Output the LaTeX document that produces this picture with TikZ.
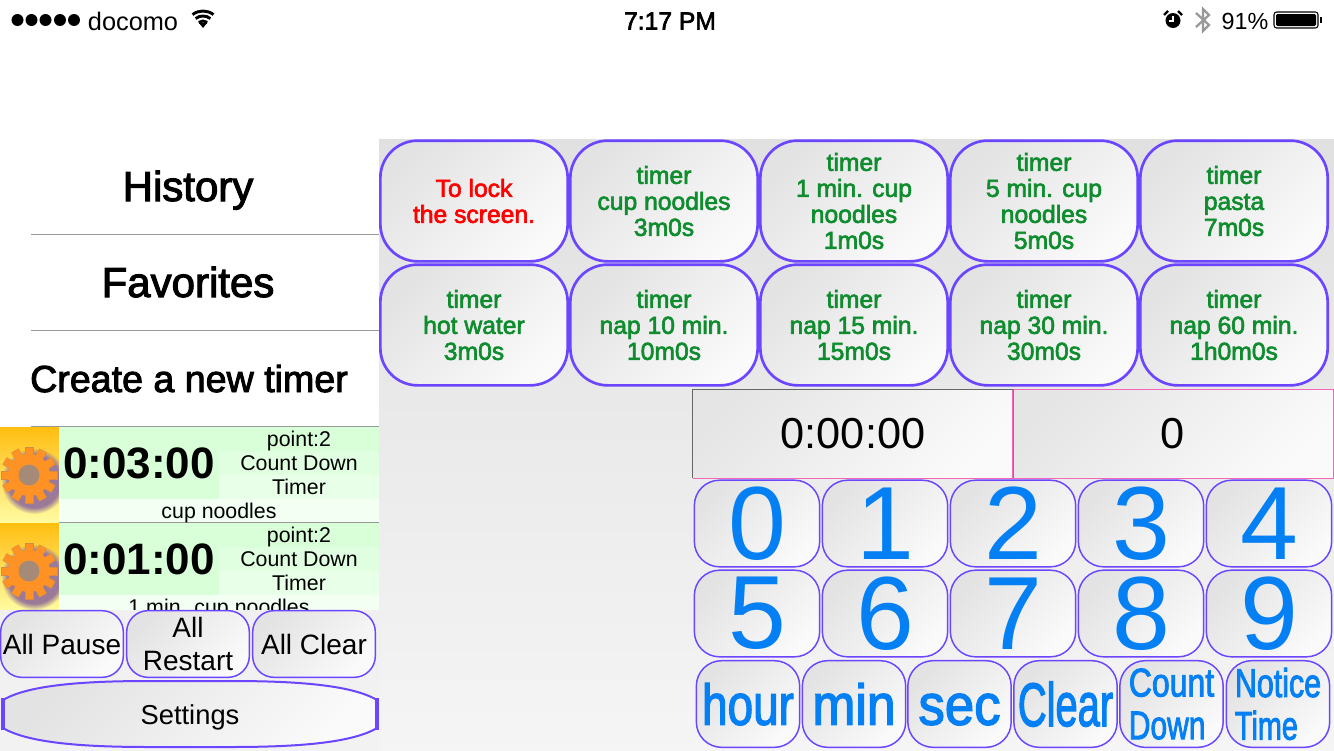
\documentclass[tikz,border=0pt]{standalone}
\usepackage{fontspec}
\usepackage{tikz}
\usetikzlibrary{fadings}
\setmainfont{Liberation Sans}
\newfontfamily\midfont[FakeBold=2.5]{Liberation Sans}
\definecolor{btnline}{HTML}{6B45FF}
\definecolor{btngreen}{HTML}{0E8C2E}
\definecolor{digitblue}{HTML}{0480F4}
\definecolor{gearorange}{HTML}{FF9224}
\definecolor{gearshadow}{HTML}{9A7A98}
\definecolor{gearhole}{HTML}{A58A78}
\definecolor{icontop}{HTML}{FFBE10}
\definecolor{iconbot}{HTML}{FFFBA0}
\definecolor{linegray}{HTML}{999999}
\newcommand{\pxfont}[2]{\fontsize{#1}{#2}\selectfont}
\newcommand{\gearicon}[2]{%
  \begin{scope}[shift={(#1,#2)}]
    \fill[gearshadow,path fading=circle with fuzzy edge 20 percent] (5,6) circle[radius=33];
    \foreach \a in {0,30,...,330}
      \fill[gearorange,draw=gearorange!70!gray,line width=0.3pt,rotate=\a] (-4,-28) rectangle (4,-19);
    \fill[gearorange] (0,0) circle[radius=21];
    \fill[gearhole] (0,0) circle[radius=10.5];
  \end{scope}}
\tikzset{
  basebtn/.style={draw=btnline,top color=black!11,bottom color=black!2,shading angle=45,
    align=center,inner sep=0pt},
  timerbtn/.style={basebtn,line width=2pt,rounded corners=28pt,minimum width=140.5pt,minimum height=90.5pt,
    font=\midfont\pxfont{18.5}{19.5}},
  digitbtn/.style={basebtn,line width=1.1pt,rounded corners=19pt,minimum width=94pt,minimum height=65pt,
    text=digitblue,font=\pxfont{78}{78}},
  unitbtn/.style={basebtn,line width=1.1pt,rounded corners=19pt,minimum width=77.5pt,minimum height=65pt,
    text=digitblue,text height=31pt,text depth=0pt,font=\midfont\pxfont{43}{43}},
  twolinebtn/.style={basebtn,line width=1.1pt,rounded corners=19pt,minimum width=77.5pt,minimum height=65pt,
    text=digitblue,align=left,font=\midfont\pxfont{30}{32}},
  allbtn/.style={basebtn,line width=1.1pt,rounded corners=16pt,minimum width=92pt,minimum height=50pt,
    font=\pxfont{21}{25}},
  readout/.style={draw=none,top color=black!10,bottom color=black!2,shading angle=45,
    minimum width=240pt,minimum height=66.5pt,inner sep=0pt,font=\pxfont{32.5}{34}},
  menuitem/.style={inner sep=0pt,anchor=base,font=\midfont\pxfont{31.5}{32}},
  clocktext/.style={inner sep=0pt,font=\bfseries\pxfont{33}{34}},
  infotext/.style={inner sep=0pt,anchor=base,font=\pxfont{16}{17}},
}
\begin{document}
\begin{tikzpicture}[x=0.75pt,y=-0.75pt]
  \useasboundingbox (0,0) rectangle (1334,750);
  \fill[white] (0,0) rectangle (1334,750);
  \shade[top color=black!12,bottom color=black!4] (0,139) rectangle (1334,750);
  \fill[white] (0,139) rectangle (379,610);

  % status bar
  \foreach \x in {17.5,31.5,45.5,60,74}
    \fill[black] (\x,20) circle[radius=6];
  \node[inner sep=0pt,font=\pxfont{19}{21}] (carrier) at (133,21) {docomo};
  \foreach \r in {7,12,17}
    \draw[line width=2.2pt] (203,28) ++(232:\r) arc[start angle=232,end angle=308,radius=\r];
  \fill (203,28) -- (199,23) -- (207,23) -- cycle;
  \node[inner sep=0pt,font=\midfont\pxfont{18.5}{20}] (clock) at (670,21) {7:17 PM};
  \fill (1173,20.5) circle[radius=7.5];
  \draw[line width=1.8pt] (1164,15) -- (1168,11) (1182,15) -- (1178,11);
  \draw[white,line width=1pt] (1173,16) -- (1173,21) -- (1169,21);
  \draw[linegray,line width=1.7pt] (1196,13) -- (1209,25) -- (1203,31) -- (1203,9) -- (1209,15) -- (1196,27);
  \node[inner sep=0pt,font=\pxfont{17.5}{20}] (battpct) at (1245,21) {91\%};
  \draw[line width=0.8pt,rounded corners=2pt] (1274,12) rectangle (1318,28);
  \fill[rounded corners=1pt] (1276,14) rectangle (1316,26);
  \fill (1320,17) rectangle (1322,23);

  % left menu
  \node[menuitem] (history) at (188,201) {History};
  \node[menuitem] (favorites) at (188,297) {Favorites};
  \node[menuitem,font=\midfont\pxfont{28.2}{30}] (create) at (189,392) {Create a new timer};
  \foreach \y in {234.5,330.5,426.5,522.5}
    \draw[linegray,line width=0.75pt] (31,\y) -- (379,\y);

  % running timers
  \foreach \y/\nm/\tm/\lbl/\ic in {427/a/0:03:00/cup noodles/522,523/b/0:01:00/1 min. cup noodles/610}{
    \shade[top color=icontop,bottom color=iconbot] (0,\y) rectangle (59,\ic);
    \gearicon{29}{\y+48}
    \fill[white] (59,\y) rectangle (379,\ic);
    \fill[green!15] (59,\y) rectangle (219,\y+72);
    \fill[green!15] (219,\y) rectangle (379,\y+24);
    \fill[green!12] (219,\y+24) rectangle (379,\y+48);
    \fill[green!9] (219,\y+48) rectangle (379,\y+72);
    \fill[green!5] (59,\y+72) rectangle (379,\ic);
    \node[clocktext] (time\nm) at (139,\y+36) {\tm};
    \node[infotext] (point\nm) at (299,\y+19) {point:2};
    \node[infotext] (kind\nm) at (299,\y+43) {Count Down};
    \node[infotext] (word\nm) at (299,\y+67) {Timer};
    \node[infotext] (name\nm) at (219,\y+91) {\lbl};
  }
  \shade[top color=black!6,bottom color=black!5] (0,610) rectangle (380,750);

  % buttons under the list
  \node[allbtn] (pause) at (62,644) {All Pause};
  \node[allbtn] (restart) at (188,644) {All\\Restart};
  \node[allbtn] (clearall) at (314,644) {All Clear};
  \shade[top color=black!11,bottom color=black!2,shading angle=45] (3,700) .. controls (30,684) and (90,681) .. (150,681) -- (230,681) .. controls (290,681) and (350,684) .. (377,700) -- (377,728) .. controls (350,744) and (290,747) .. (230,747) -- (150,747) .. controls (90,747) and (30,744) .. (3,728) -- cycle;
  \draw[btnline,line width=1.5pt] (3,700) .. controls (30,684) and (90,681) .. (150,681) -- (230,681) .. controls (290,681) and (350,684) .. (377,700) -- (377,728) .. controls (350,744) and (290,747) .. (230,747) -- (150,747) .. controls (90,747) and (30,744) .. (3,728) -- cycle;
  \draw[btnline,line width=3pt] (3,698) -- (3,730) (377,698) -- (377,730);
  \node[inner sep=0pt,anchor=base,font=\pxfont{20.5}{22}] (settings) at (190,724) {Settings};

  % timer presets
  \node[timerbtn,text=red] (lock) at (474,201) {To lock\\the screen.};
  \foreach \cx/\cy/\nm/\lbl in {
    664/201/p1/{timer\\cup noodles\\3m0s},
    854/201/p2/{timer\\1 min. cup\\noodles\\1m0s},
    1044/201/p3/{timer\\5 min. cup\\noodles\\5m0s},
    1234/201/p4/{timer\\pasta\\7m0s},
    474/325/p5/{timer\\hot water\\3m0s},
    664/325/p6/{timer\\nap 10 min.\\10m0s},
    854/325/p7/{timer\\nap 15 min.\\15m0s},
    1044/325/p8/{timer\\nap 30 min.\\30m0s},
    1234/325/p9/{timer\\nap 60 min.\\1h0m0s}}
    \node[timerbtn,text=btngreen] (\nm) at (\cx,\cy) {\lbl};

  % readouts
  \node[readout] (elapsed) at (853,433.7) {0:00:00};
  \node[readout] (points) at (1173,433.7) {0};
  \draw[magenta!60,line width=0.75pt] (elapsed.south west) -- (points.south east) -- (points.north east) -- (points.north west) -- (points.south west);
  \draw[magenta!60!gray,line width=0.75pt] (elapsed.north east) -- (elapsed.south east);
  \draw[black!60,line width=0.75pt] (elapsed.south west) -- (elapsed.north west) -- (elapsed.north east);

  % keypad
  \foreach \d/\cx/\cy in {0/757/523.5,1/885/523.5,2/1013/523.5,3/1141/523.5,4/1269/523.5,
                          5/757/613.5,6/885/613.5,7/1013/613.5,8/1141/613.5,9/1269/613.5}
    \node[digitbtn] (key\d) at (\cx,\cy) {\d};
  \node[unitbtn] (hour) at (748,704) {\scalebox{.8}[1]{hour}};
  \node[unitbtn] (min) at (854,704) {\scalebox{.9}[1]{min}};
  \node[unitbtn] (sec) at (959.5,704) {\scalebox{.92}[1]{sec}};
  \node[unitbtn,text height=33pt,font=\midfont\pxfont{46}{46}] (clear) at (1065.5,704) {\scalebox{.65}[1]{Clear}};
  \node[twolinebtn] (count) at (1171.5,704) {\scalebox{.8}[1]{Count}\\\scalebox{.75}[1]{Down}};
  \node[twolinebtn] (notice) at (1278,704) {\scalebox{.76}[1]{Notice}\\\scalebox{.72}[1]{Time}};
\end{tikzpicture}
\end{document}
